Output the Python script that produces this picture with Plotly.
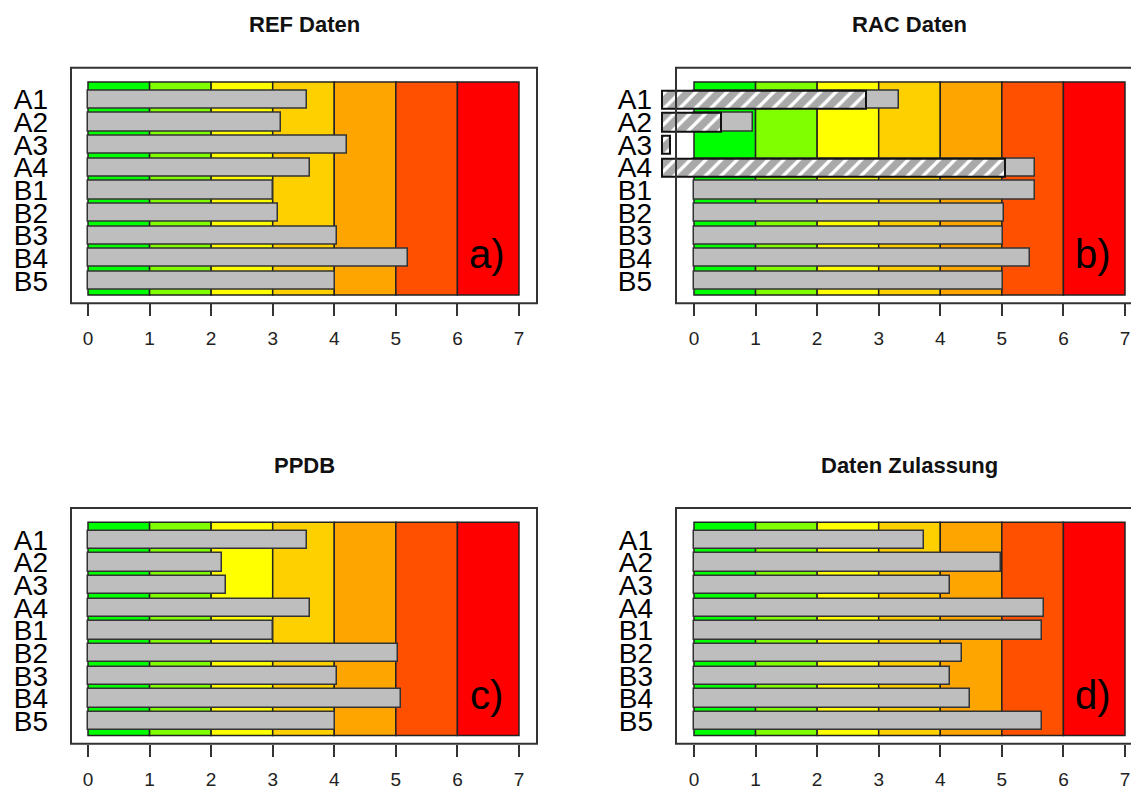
import plotly.graph_objects as go

# ---------------- data ----------------
categories = ["A1", "A2", "A3", "A4", "B1", "B2", "B3", "B4", "B5"]
ref_values = [3.56, 3.13, 4.20, 3.61, 3.01, 3.08, 4.04, 5.20, 4.01]
rac_values = [3.33, 0.96, None, 5.54, 5.54, 5.04, 5.02, 5.45, 5.02]
rac_hatched_start = -0.52
rac_hatched_end = [2.80, 0.44, -0.39, 5.05, None, None, None, None, None]
ppdb_values = [3.56, 2.17, 2.24, 3.61, 3.01, 5.04, 4.04, 5.09, 4.01]
zul_values = [3.74, 4.99, 4.15, 5.68, 5.65, 4.36, 4.15, 4.49, 5.65]
titles = ["REF Daten", "RAC Daten", "PPDB", "Daten Zulassung"]
panel_tags = ["a)", "b)", "c)", "d)"]
class_bounds = [0, 1, 2, 3, 4, 5, 6, 7]
class_colors = ["#00FF00", "#80FF00", "#FFFF00", "#FFD000", "#FFA500", "#FF5000", "#FF0000"]
x_ticks = [0, 1, 2, 3, 4, 5, 6, 7]

# ---------------- geometry (pixels) ----------------
W, H = 1131, 790
S = 61.57                      # px per x unit
Y_RANGE = [9.0, -1.41]         # reversed, in category-index units
BAND = [-0.78, 8.63]           # colored background extent (category units)
BAR_W = 0.806
FONT = "Liberation Sans, Arial, sans-serif"
DARK = "#333333"

panels = [
    dict(x0=88, pl=71, pr=537, fl=71, fr=537, top=68, bot=304.5, so=22),
    dict(x0=694, pl=658, pr=W, fl=676, fr=1142, top=68, bot=304.5, so=5),
    dict(x0=88, pl=71, pr=537, fl=71, fr=537, top=510, bot=746.7, so=22),
    dict(x0=694, pl=676, pr=W, fl=676, fr=1142, top=510, bot=746.7, so=22),
]
series = [ref_values, rac_values, ppdb_values, zul_values]

fig = go.Figure()
shapes = []
annotations = []

for i, (p, vals) in enumerate(zip(panels, series)):
    n = "" if i == 0 else str(i + 1)
    xa, ya = "x" + n, "y" + n
    fig.add_trace(go.Bar(
        x=vals, y=categories, orientation="h", base=0, width=BAR_W,
        marker=dict(color="#BEBEBE", line=dict(color=DARK, width=1.5)),
        xaxis=xa, yaxis=ya, showlegend=False, hoverinfo="skip",
    ))
    if i == 1:
        lens = [None if e is None else e - rac_hatched_start for e in rac_hatched_end]
        fig.add_trace(go.Bar(
            x=lens, y=categories, orientation="h", base=rac_hatched_start, width=BAR_W,
            marker=dict(color="#A9A9A9", line=dict(color="#111111", width=2),
                        pattern=dict(shape="/", fillmode="replace", bgcolor="#A9A9A9",
                                     fgcolor="white", size=11, solidity=0.3)),
            xaxis=xa, yaxis=ya, showlegend=False, hoverinfo="skip",
        ))
    for k, col in enumerate(class_colors):
        shapes.append(dict(type="rect", xref=xa, yref=ya, layer="below",
                           x0=class_bounds[k], x1=class_bounds[k + 1], y0=BAND[0], y1=BAND[1],
                           fillcolor=col, line=dict(color="#222222", width=1.5)))
    shapes.append(dict(type="rect", xref="paper", yref="paper", layer="above",
                       x0=p["fl"] / W, x1=p["fr"] / W, y0=1 - p["bot"] / H, y1=1 - p["top"] / H,
                       fillcolor="rgba(0,0,0,0)", line=dict(color=DARK, width=2)))
    annotations.append(dict(xref="paper", yref="paper", x=(p["fl"] + p["fr"]) / 2 / W,
                            y=1 - (p["top"] - 43) / H, text="<b>%s</b>" % titles[i],
                            showarrow=False, font=dict(family=FONT, size=22, color="#111111"),
                            xanchor="center", yanchor="middle"))
    annotations.append(dict(xref=xa, yref=ya, x=6.48, y=6.83, text=panel_tags[i],
                            showarrow=False, font=dict(family=FONT, size=40, color="black"),
                            xanchor="center", yanchor="middle"))
    xr = [(p["pl"] - p["x0"]) / S, (p["pr"] - p["x0"]) / S]
    fig.layout["xaxis" + n] = dict(
        domain=[p["pl"] / W, p["pr"] / W], range=xr, anchor=ya,
        tickmode="array", tickvals=x_ticks, ticks="outside", ticklen=12, tickwidth=1.5,
        tickcolor=DARK, tickfont=dict(family=FONT, size=19, color="#222222"),
        ticklabelstandoff=6, showgrid=False, zeroline=False, showline=False, fixedrange=True,
    )
    fig.layout["yaxis" + n] = dict(
        domain=[1 - p["bot"] / H, 1 - p["top"] / H], range=Y_RANGE, anchor=xa,
        type="category", categoryorder="array", categoryarray=categories,
        tickmode="array", tickvals=categories, ticktext=categories,
        ticks="", tickfont=dict(family=FONT, size=28, color="black"),
        ticklabelstandoff=p["so"], showgrid=False, zeroline=False, showline=False,
        fixedrange=True,
    )

fig.update_layout(
    width=W, height=H, margin=dict(l=0, r=0, t=0, b=0),
    paper_bgcolor="white", plot_bgcolor="white",
    barmode="overlay", bargap=0, shapes=shapes, annotations=annotations,
    font=dict(family=FONT),
)
fig.write_html(
    "out.html",
    config={"displayModeBar": False},
    post_script="document.body.style.margin='0';document.body.style.overflow='hidden';",
)
